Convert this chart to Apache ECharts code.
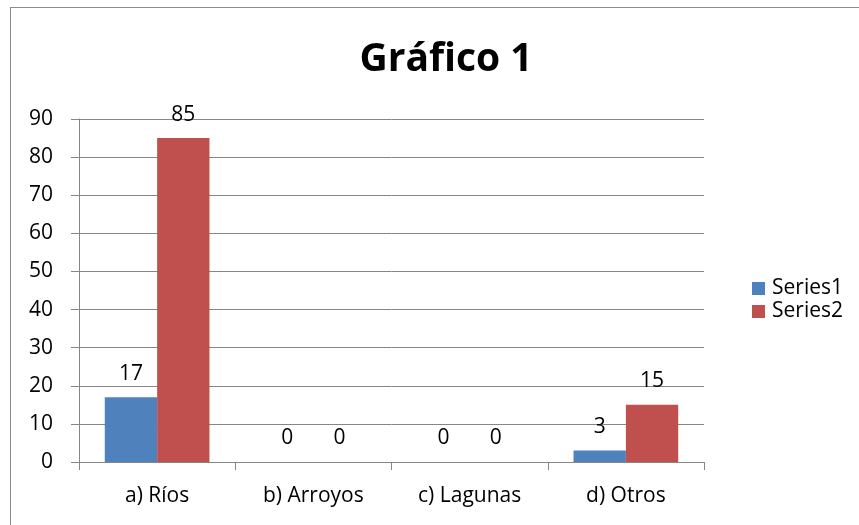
<!DOCTYPE html>
<html>
<head>
<meta charset="utf-8">
<script src="https://cdn.jsdelivr.net/npm/echarts@6/dist/echarts.min.js"></script>
<style>
  html, body { margin: 0; padding: 0; background: #fff; }
  #frame {
    position: absolute; left: 10px; top: 7px; width: 870px; height: 540px;
    border-left: 1px solid #8c8c8c; border-top: 1px solid #8c8c8c;
  }
  #chart { position: absolute; left: 0; top: 0; width: 859px; height: 525px; }
</style>
</head>
<body>
<div id="frame"></div>
<div id="chart"></div>
<script>
// datos del gráfico
const categories = ['a) Ríos', 'b) Arroyos', 'c) Lagunas', 'd) Otros']
const series1 = [17, 0, 0, 3]
const series2 = [85, 0, 0, 15]
const yTicks = { min: 0, max: 90, interval: 10 }

const chart = echarts.init(document.getElementById('chart'))
const font = '"Open Sans", "DejaVu Sans", sans-serif'
const axisGray = '#868686'

const labelStyle = {
  show: true,
  position: 'top',
  color: '#000',
  fontSize: 21,
  fontFamily: font,
  distance: 13
}

chart.setOption({
  backgroundColor: 'transparent',
  animation: false,
  title: {
    text: 'Gráfico 1',
    left: 441,
    top: 35,
    textAlign: 'center',
    textStyle: { fontSize: 39, fontWeight: 'bold', color: '#000', fontFamily: font }
  },
  legend: {
    orient: 'vertical',
    left: 747,
    top: 273,
    itemWidth: 13,
    itemHeight: 13,
    itemGap: 2,
    icon: 'rect',
    textStyle: { fontSize: 21, color: '#000', fontFamily: font, padding: [0, 0, 0, 2] }
  },
  grid: { left: 79, right: 155, top: 119, bottom: 63 },
  xAxis: {
    type: 'category',
    data: categories,
    axisLine: { lineStyle: { color: axisGray } },
    axisTick: { show: true, length: 8, alignWithLabel: false, lineStyle: { color: axisGray } },
    axisLabel: { color: '#000', fontSize: 21, fontFamily: font, margin: 24 }
  },
  yAxis: {
    type: 'value',
    min: yTicks.min,
    max: yTicks.max,
    interval: yTicks.interval,
    axisLine: { show: true, lineStyle: { color: axisGray } },
    axisTick: { show: true, length: 8, lineStyle: { color: axisGray } },
    axisLabel: { color: '#000', fontSize: 21, fontFamily: font, margin: 26 },
    splitLine: { lineStyle: { color: axisGray } }
  },
  series: [
    {
      name: 'Series1',
      type: 'bar',
      data: series1,
      barGap: '0%',
      barCategoryGap: '33%',
      itemStyle: { color: '#4F81BD' },
      label: labelStyle
    },
    {
      name: 'Series2',
      type: 'bar',
      data: series2,
      itemStyle: { color: '#C0504D' },
      label: labelStyle
    }
  ]
})
</script>
</body>
</html>
